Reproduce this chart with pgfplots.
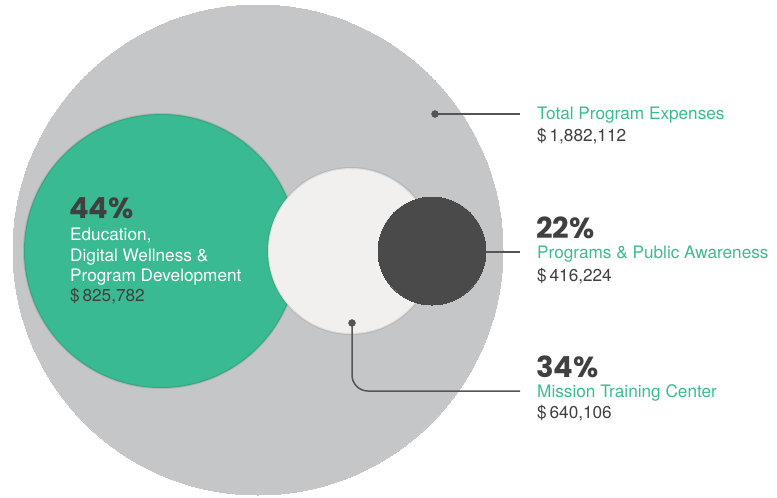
\documentclass[border=0pt]{standalone}
\usepackage{pgfplots}
\pgfplotsset{compat=1.18}
\usepackage{fontspec}
\setmainfont{TeX Gyre Heros}
\newfontfamily\pctfont{Poppins}
\definecolor{bgray}{RGB}{197,198,200}
\definecolor{bgreen}{RGB}{58,186,146}
\definecolor{blight}{RGB}{241,240,239}
\definecolor{bdark}{RGB}{74,74,74}
\definecolor{tgreen}{RGB}{60,187,145}
\definecolor{tdark}{RGB}{64,64,64}
\definecolor{lgray}{RGB}{85,85,85}
\tikzset{
  lab/.style={anchor=base west, inner sep=0pt, text height=0.74em, font=\fontsize{17.2}{20}\selectfont},
  pct/.style={anchor=base west, inner sep=0pt, text depth=0pt, text=tdark, font=\pctfont\bfseries\fontsize{29}{30}\selectfont},
}
\begin{document}
\begin{tikzpicture}
\useasboundingbox (0,0) rectangle (777pt,498pt);
\begin{axis}[
  at={(0,0)}, anchor=south west,
  scale only axis, width=777pt, height=498pt,
  xmin=0, xmax=777, ymin=0, ymax=498, y dir=reverse,
  hide axis, clip=true, clip marker paths=true,
]
% Total
\addplot[bgray, only marks, mark=*, mark size=245, mark options={fill=bgray, draw=bgray, line width=0pt}] coordinates {(258,250)};
% Education
\addplot[bgreen, only marks, mark=*, mark size=137, mark options={fill=bgreen, draw=black, draw opacity=0.10, line width=2pt}] coordinates {(161,251)};
% Mission
\addplot[blight, only marks, mark=*, mark size=83, mark options={fill=blight, draw=black, draw opacity=0.08, line width=2pt}] coordinates {(351,251)};
% Programs
\addplot[bdark, only marks, mark=*, mark size=54, mark options={fill=bdark, draw=bdark, line width=0pt}] coordinates {(432,251)};
% leader lines
\addplot[lgray, line width=1.5pt, no marks] coordinates {(435,114) (520,114)};
\addplot[lgray, line width=1.5pt, no marks] coordinates {(486,252) (520,252)};
\addplot[lgray, line width=1.5pt, no marks, rounded corners=16pt] coordinates {(352,323) (352,391) (520,391)};
\addplot[lgray, only marks, mark=*, mark size=3.5, mark options={fill=lgray, draw=none}] coordinates {(435,114) (352,323)};
% labels
\node[pct] at (axis cs:69,218) {44\%};
\node[lab, text=white] at (axis cs:70,240) {Education,};
\node[lab, text=white] at (axis cs:70,261) {Digital Wellness \&};
\node[lab, text=white] at (axis cs:70,281) {Program Development};
\node[lab, text=tdark] at (axis cs:70,301) {\$\,825,782};
\node[lab, text=tgreen] at (axis cs:537,119) {Total Program Expenses};
\node[lab, text=tdark] at (axis cs:537,141) {\$\,1,882,112};
\node[pct] at (axis cs:536,238) {22\%};
\node[lab, text=tgreen] at (axis cs:537,258) {Programs \& Public Awareness};
\node[lab, text=tdark] at (axis cs:537,281) {\$\,416,224};
\node[pct] at (axis cs:536,377) {34\%};
\node[lab, text=tgreen] at (axis cs:537,397) {Mission Training Center};
\node[lab, text=tdark] at (axis cs:537,418) {\$\,640,106};
\end{axis}
\end{tikzpicture}
\end{document}
